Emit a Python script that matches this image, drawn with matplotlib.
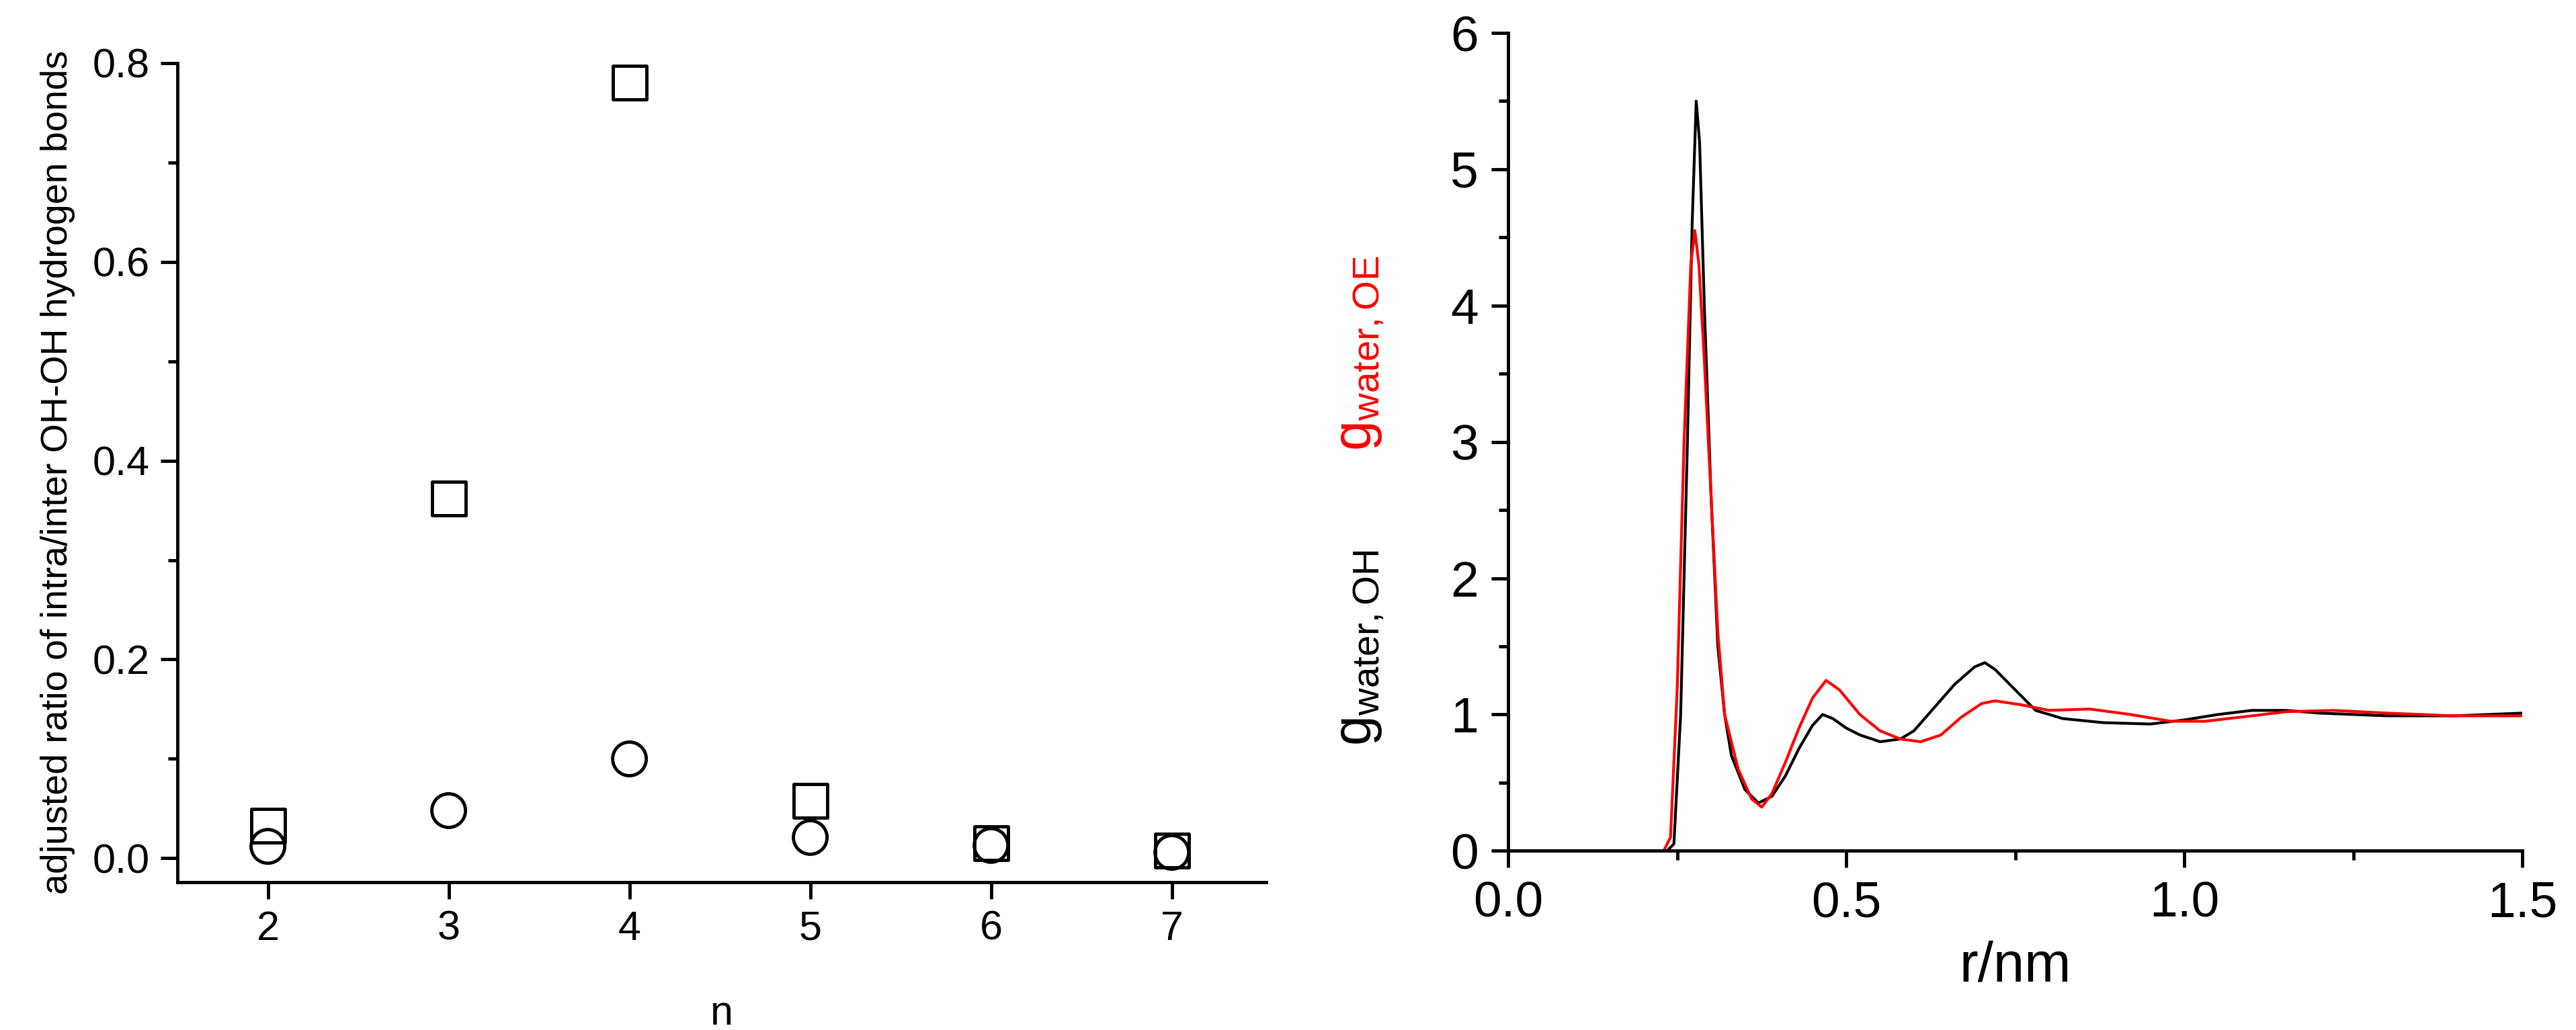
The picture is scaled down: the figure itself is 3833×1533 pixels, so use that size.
import matplotlib
matplotlib.use('Agg')
import matplotlib.pyplot as plt
from matplotlib.ticker import MultipleLocator, FormatStrFormatter

plt.rcParams['font.family'] = ['Liberation Sans Narrow', 'Liberation Sans', 'DejaVu Sans']
plt.rcParams['mathtext.fontset'] = 'custom'
plt.rcParams['mathtext.rm'] = 'Liberation Sans'

n = [2, 3, 4, 5, 6, 7]
squares = [0.033, 0.362, 0.780, 0.058, 0.015, 0.008]
circles = [0.012, 0.048, 0.100, 0.021, 0.013, 0.006]

r_oh = [0, 0.235, 0.245, 0.255, 0.265, 0.272, 0.278, 0.283, 0.29, 0.30, 0.31, 0.32, 0.33, 0.35, 0.37, 0.39,
        0.41, 0.43, 0.45, 0.465, 0.48, 0.50, 0.52, 0.55, 0.58, 0.60, 0.63, 0.66, 0.69, 0.705, 0.72, 0.75,
        0.78, 0.82, 0.88, 0.95, 1.0, 1.05, 1.1, 1.15, 1.2, 1.3, 1.4, 1.5]
g_oh = [0, 0, 0.05, 1.0, 3.0, 4.6, 5.5, 5.2, 4.0, 2.6, 1.5, 1.0, 0.7, 0.45, 0.35, 0.4,
        0.55, 0.75, 0.92, 1.0, 0.97, 0.9, 0.85, 0.8, 0.82, 0.88, 1.05, 1.22, 1.35, 1.38, 1.33, 1.18,
        1.03, 0.97, 0.94, 0.93, 0.96, 1.0, 1.03, 1.03, 1.01, 0.99, 0.99, 1.01]
r_oe = [0, 0.23, 0.24, 0.25, 0.26, 0.27, 0.276, 0.282, 0.29, 0.30, 0.31, 0.32, 0.34, 0.36, 0.375, 0.39,
        0.41, 0.43, 0.45, 0.47, 0.49, 0.52, 0.55, 0.58, 0.61, 0.64, 0.67, 0.70, 0.72, 0.76, 0.80, 0.86,
        0.92, 0.98, 1.03, 1.1, 1.15, 1.22, 1.3, 1.4, 1.5]
g_oe = [0, 0, 0.1, 1.2, 3.0, 4.3, 4.55, 4.3, 3.6, 2.6, 1.6, 1.0, 0.6, 0.38, 0.32, 0.42,
        0.65, 0.9, 1.12, 1.25, 1.18, 1.0, 0.88, 0.82, 0.8, 0.85, 0.98, 1.08, 1.1, 1.07, 1.03, 1.04,
        1.0, 0.95, 0.95, 0.99, 1.02, 1.03, 1.01, 0.99, 0.99]

fig = plt.figure(figsize=(38.33, 15.33), dpi=100)
ax1 = fig.add_axes([0.0689, 0.1435, 0.4225, 0.7955])
ax2 = fig.add_axes([0.5855, 0.174, 0.3937, 0.794])

for ax in (ax1, ax2):
    for s in ('top', 'right'):
        ax.spines[s].set_visible(False)
    for s in ('left', 'bottom'):
        ax.spines[s].set_linewidth(3.5)
    ax.tick_params(which='major', direction='out', length=18, width=3.5, labelsize=44, pad=12)
    ax.tick_params(which='minor', direction='out', length=10, width=3.5)

ax1.scatter(n, squares, marker='s', s=1300, facecolors='none', edgecolors='black', linewidths=3.5, zorder=3)
ax1.scatter(n, circles, marker='o', s=1300, facecolors='none', edgecolors='black', linewidths=3.5, zorder=3)
ax1.set_xlim(1.5, 7.52)
ax1.set_ylim(-0.024, 0.8)
ax1.set_xticks(n)
ax1.yaxis.set_major_locator(MultipleLocator(0.2))
ax1.yaxis.set_minor_locator(MultipleLocator(0.1))
ax1.yaxis.set_major_formatter(FormatStrFormatter('%.1f'))
ax1.set_xlabel('n', fontsize=44, labelpad=50)
ax1.set_ylabel('adjusted ratio of intra/inter OH-OH hydrogen bonds', fontsize=40, labelpad=18)

ax2.plot(r_oh, g_oh, color='black', lw=3)
ax2.plot(r_oe, g_oe, color='red', lw=3)
ax2.set_xlim(0, 1.5)
ax2.set_ylim(0, 6)
ax2.xaxis.set_major_locator(MultipleLocator(0.5))
ax2.xaxis.set_minor_locator(MultipleLocator(0.25))
ax2.yaxis.set_major_locator(MultipleLocator(1))
ax2.yaxis.set_minor_locator(MultipleLocator(0.5))
ax2.xaxis.set_major_formatter(FormatStrFormatter('%.1f'))
ax2.tick_params(which='major', labelsize=54, pad=14)
ax2.set_xlabel('r/nm', fontsize=60, labelpad=14)

fig.text(0.528, 0.371, r'$\mathregular{g_{water,OH}}$', rotation=90, fontsize=58,
         color='black', ha='center', va='center')
fig.text(0.528, 0.657, r'$\mathregular{g_{water,OE}}$', rotation=90, fontsize=58,
         color='red', ha='center', va='center')
fig.savefig('out.png', dpi=100)
